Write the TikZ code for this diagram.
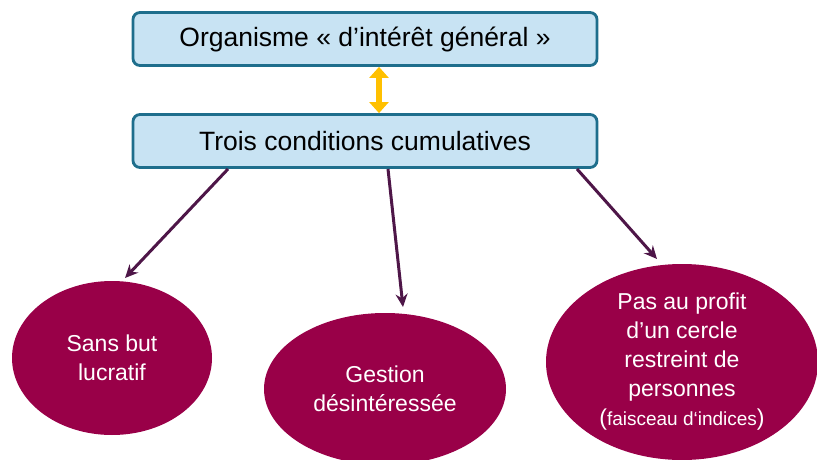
\documentclass[tikz,border=0pt]{standalone}
\usepackage{fontspec}
\setmainfont{Liberation Sans}
\usetikzlibrary{shapes.geometric,arrows.meta}
\definecolor{boxfill}{RGB}{200,227,243}
\definecolor{boxline}{RGB}{30,110,140}
\definecolor{ellfill}{RGB}{153,0,72}
\definecolor{arrcol}{RGB}{78,22,72}
\definecolor{gold}{RGB}{255,192,0}
\tikzset{
  topbox/.style={draw=boxline, line width=2.8pt, fill=boxfill, rounded corners=7pt, minimum width=464pt, minimum height=53pt, inner sep=0pt, font=\fontsize{26.5}{30}\selectfont},
  condell/.style={ellipse, fill=ellfill, text=white, inner sep=0pt, align=center, font=\fontsize{23}{29}\selectfont},
  link/.style={draw=arrcol, line width=3pt, -{Stealth[length=13pt,width=12pt]}}
}
\begin{document}
\begin{tikzpicture}[x=1pt,y=-1pt]
\useasboundingbox (0,0) rectangle (817,460);
\node[topbox] (org) at (365,39) {Organisme « d’intérêt général »};
\node[topbox] (trois) at (365,141) {Trois conditions cumulatives};
\node[condell, minimum width=200pt, minimum height=154pt] (sans) at (112,358) {Sans but\\lucratif};
\node[condell, minimum width=242pt, minimum height=152pt] (gest) at (385,389) {Gestion\\désintéressée};
\node[condell, minimum width=272pt, minimum height=196pt] (pas) at (682,362) {Pas au profit\\d’un cercle\\restreint de\\personnes\\{\fontsize{23}{29}\selectfont(}{\fontsize{19}{29}\selectfont faisceau d‘indices}{\fontsize{23}{29}\selectfont)}};
\draw[gold, line width=6pt, {Triangle[length=11pt,width=19pt]}-{Triangle[length=11pt,width=19pt]}] ([xshift=14pt]org.south) -- ([xshift=14pt]trois.north);
\coordinate (s1) at (228,169);
\coordinate (s2) at (388,169);
\coordinate (s3) at (577,169);
\draw[link] (s1) -- (125,278);
\draw[link] (s2) -- (403,307);
\draw[link] (s3) -- (657,259);
\end{tikzpicture}
\end{document}
